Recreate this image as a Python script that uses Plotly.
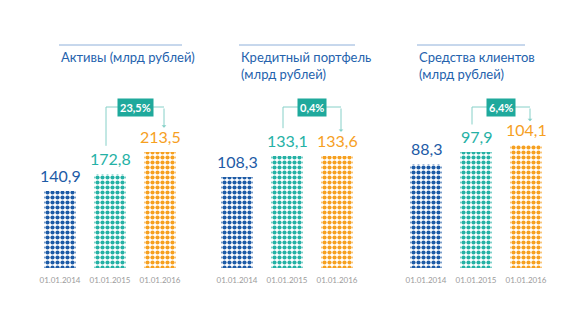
import plotly.graph_objects as go

# ---- data ----
dates = ["01.01.2014", "01.01.2015", "01.01.2016"]
titles = ["Активы (млрд рублей)", "Кредитный портфель<br>(млрд рублей)", "Средства клиентов<br>(млрд рублей)"]
assets = [140.9, 172.8, 213.5]
loans = [108.3, 133.1, 133.6]
funds = [88.3, 97.9, 104.1]
growth = ["23,5%", "0,4%", "6,4%"]

series = [assets, loans, funds]
colors = ["#1d5ba6", "#25b1a5", "#f6a01f"]
W, H = 588, 336
BOTTOM, TOP = 268, 40
scales = [0.545, 0.84, 1.18]   # px per unit per panel
x_left = [35, 212, 401]
title_x = [59, 239, 417]
title_line = [(59, 182), (239, 355), (417, 525)]
CAT_PX = 50.0


def py(p):
    return (H - p) / H


def px(p):
    return p / W


fig = go.Figure()
annotations = []
shapes = []
FONT = "Lato, Open Sans, sans-serif"

for i, (vals, sc) in enumerate(zip(series, scales)):
    n = i + 1
    xa = "x" if n == 1 else f"x{n}"
    ya = "y" if n == 1 else f"y{n}"
    fig.add_trace(go.Bar(
        x=[0, 1, 2], y=vals, width=0.64, xaxis=xa, yaxis=ya,
        marker=dict(color=colors, line=dict(width=0),
                    pattern=dict(shape=".", fgcolor=colors, bgcolor="white",
                                 fillmode="replace", size=5, solidity=0.55)),
        hoverinfo="skip", showlegend=False,
    ))
    dom = [px(x_left[i]), px(x_left[i] + 3 * CAT_PX)]
    fig.update_layout(**{
        ("xaxis" if n == 1 else f"xaxis{n}"): dict(
            domain=dom, range=[-0.5, 2.5], showgrid=False, zeroline=False,
            showline=False, ticks="", tickvals=[0, 1, 2], ticktext=dates,
            ticklabelstandoff=6,
            tickfont=dict(size=8, color="#9b9b9b", family=FONT), fixedrange=True,
            anchor=ya),
        ("yaxis" if n == 1 else f"yaxis{n}"): dict(
            domain=[py(BOTTOM), py(TOP)], range=[0, (BOTTOM - TOP) / sc],
            visible=False, fixedrange=True, anchor=xa),
    })
    # value labels
    for j, v in enumerate(vals):
        annotations.append(dict(
            x=j, y=v, xref=xa, yref=ya, yanchor="bottom", yshift=4,
            text=f"{v:.1f}".replace(".", ","), showarrow=False,
            font=dict(size=16, color=colors[j], family=FONT)))
    # title and line
    annotations.append(dict(
        x=px(title_x[i]), y=py(47), xref="paper", yref="paper",
        xanchor="left", yanchor="top", align="left", text=titles[i],
        showarrow=False, font=dict(size=13, color="#2462ad", family=FONT)))
    shapes.append(dict(type="line", xref="paper", yref="paper",
                       x0=px(title_line[i][0]), x1=px(title_line[i][1]),
                       y0=py(45), y1=py(45),
                       line=dict(color="#8fb0da", width=1)))
    # growth bracket
    top2 = BOTTOM - vals[1] * sc
    top3 = BOTTOM - vals[2] * sc
    yb = 107
    lc = "#86d0c8"
    xl, xr = 1 - 0.08, 2 + 0.08
    shapes.append(dict(type="line", xref=xa, yref="paper", x0=xl, x1=xl,
                       y0=py(top2 - 28), y1=py(yb), line=dict(color=lc, width=1)))
    shapes.append(dict(type="line", xref=xa, yref="paper", x0=xl, x1=xr,
                       y0=py(yb), y1=py(yb), line=dict(color=lc, width=1)))
    end = top3 - 24
    annotations.append(dict(
        x=xr, y=py(end), xref=xa, yref="paper", text="", showarrow=True,
        ax=0, ay=-(end - yb), arrowhead=1, arrowsize=0.8, arrowwidth=1,
        arrowcolor=lc))
    annotations.append(dict(
        x=1.5, y=py(yb), xref=xa, yref="paper", text=f"<b>{growth[i]}</b>",
        showarrow=False, bgcolor="#1fa99c", borderpad=2,
        xanchor="center", yanchor="middle",
        font=dict(size=11, color="white", family=FONT)))

fig.update_layout(
    width=W, height=H, margin=dict(l=0, r=0, t=0, b=0),
    paper_bgcolor="white", plot_bgcolor="white",
    annotations=annotations, shapes=shapes, bargap=0,
)
fig.write_html("out.html")
